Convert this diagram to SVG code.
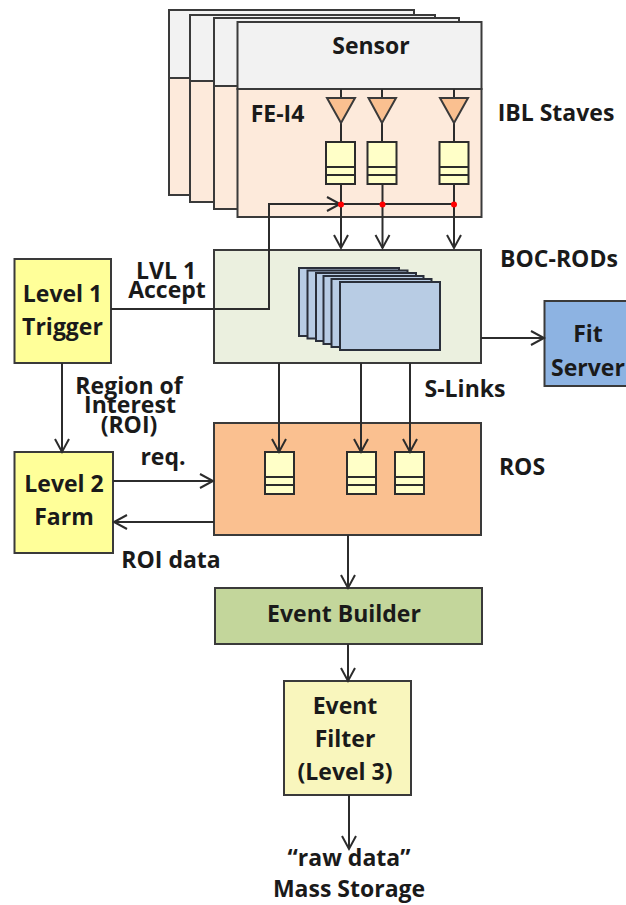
<svg xmlns="http://www.w3.org/2000/svg" width="626" height="905" viewBox="0 0 626 905">
<style>
text{font-family:"Open Sans","Noto Sans","Liberation Sans",sans-serif;font-weight:700;fill:#1a1a1a;font-size:23px;text-anchor:middle}
.b{stroke:#3a3a3a;stroke-width:2}
.s{fill:#f2f2f2}.f{fill:#fdeadb}
.l{fill:none;stroke:#2c2c2c;stroke-width:2}
.fifo{fill:#ffffc8;stroke:#2c2c2c;stroke-width:2}
.tri{fill:#fac090;stroke:#3a3a3a;stroke-width:2}
.card{fill:#b8cce4;stroke:#2a2f3a;stroke-width:2}
</style>
<defs>
<marker id="a" markerUnits="userSpaceOnUse" markerWidth="18" markerHeight="18" refX="14" refY="8" orient="auto"><path d="M1 1 L14 8 L1 15" fill="none" stroke="#2c2c2c" stroke-width="2"/></marker>
<g id="fifo"><rect class="fifo" x="0" y="0" width="29" height="42"/><path class="l" d="M0 25H29M0 33H29"/></g>
</defs>
<rect width="626" height="905" fill="#fff"/>
<g id="stave-1"><rect class="s b" x="169" y="10" width="245" height="68"/><rect class="f b" x="169" y="78" width="245" height="117"/></g>
<g id="stave-2"><rect class="s b" x="190" y="15" width="245" height="66"/><rect class="f b" x="190" y="81" width="245" height="121"/></g>
<g id="stave-3"><rect class="s b" x="214" y="18" width="245" height="68"/><rect class="f b" x="214" y="86" width="245" height="123"/></g>
<g id="stave-4"><rect class="s b" x="237.500" y="22" width="244" height="67"/><rect class="f b" x="237.500" y="89" width="244" height="128"/>
<text x="371" y="54">Sensor</text><text x="277.500" y="122">FE-I4</text>
<path class="l" d="M341 89V98M382 89V98M454 89V98M341 123V142M382 123V142M454 123V142"/>
<path class="tri" d="M327 98H355L341 123Z"/><path class="tri" d="M368.500 98H396L382 123Z"/><path class="tri" d="M440 98H468L454 123Z"/>
<use href="#fifo" x="326" y="142"/><use href="#fifo" x="367.500" y="142"/><use href="#fifo" x="439.500" y="142"/>
</g>
<g id="boc-rods"><rect class="b" fill="#ebf0df" x="214" y="250" width="267" height="113"/>
<rect class="card" x="299" y="268" width="100" height="68"/><rect class="card" x="307.500" y="270.500" width="100" height="68"/><rect class="card" x="316" y="273" width="100" height="68"/><rect class="card" x="323.500" y="276" width="100" height="68"/><rect class="card" x="331.500" y="279" width="100" height="68"/><rect class="card" x="340" y="282" width="100" height="68"/></g>
<g id="fit-server"><rect class="b" fill="#8db3e2" x="544.500" y="301" width="90" height="85"/><text x="588" y="342">Fit</text><text x="588" y="376">Server</text></g>
<g id="ros"><rect class="b" fill="#fac090" x="214" y="423" width="267" height="112"/>
<use href="#fifo" x="265" y="452"/><use href="#fifo" x="347" y="452"/><use href="#fifo" x="395" y="452"/></g>
<g id="level-1"><rect class="b" fill="#ffff99" x="14.500" y="259" width="96.500" height="104"/><text x="62.500" y="302">Level 1</text><text x="62.500" y="335">Trigger</text></g>
<g id="level-2"><rect class="b" fill="#ffff99" x="14.500" y="452" width="98.500" height="101"/><text x="64" y="492">Level 2</text><text x="64" y="525">Farm</text></g>
<g id="event-builder"><rect class="b" fill="#c3d69b" x="215" y="588" width="267" height="56"/><text x="344" y="622">Event Builder</text></g>
<g id="event-filter"><rect class="b" fill="#f9f6bd" x="284" y="681" width="127" height="114"/><text x="345" y="714">Event</text><text x="345" y="747">Filter</text><text x="345" y="780">(Level 3)</text></g>
<g id="connectors">
<path class="l" d="M111 309H269V204H340" marker-end="url(#a)"/>
<path class="l" d="M341 204H454"/>
<path class="l" d="M341 184V248" marker-end="url(#a)"/><path class="l" d="M382.500 184V248" marker-end="url(#a)"/><path class="l" d="M454 184V248" marker-end="url(#a)"/>
<circle cx="341" cy="204.500" r="3" fill="#f00"/><circle cx="382.500" cy="204.500" r="3" fill="#f00"/><circle cx="454" cy="204.500" r="3" fill="#f00"/>
<path class="l" d="M481 338H544" marker-end="url(#a)"/>
<path class="l" d="M279 363V452" marker-end="url(#a)"/><path class="l" d="M361 363V452" marker-end="url(#a)"/><path class="l" d="M410 363V452" marker-end="url(#a)"/>
<path class="l" d="M62 363V452" marker-end="url(#a)"/>
<path class="l" d="M113 481H213" marker-end="url(#a)"/>
<path class="l" d="M214 522H114" marker-end="url(#a)"/>
<path class="l" d="M348 535V588" marker-end="url(#a)"/>
<path class="l" d="M348 644V681" marker-end="url(#a)"/>
<path class="l" d="M349 795V849" marker-end="url(#a)"/>
</g>
<g id="labels">
<text x="556" y="121">IBL Staves</text>
<text x="559" y="267">BOC-RODs</text>
<text x="166" y="279">LVL 1</text><text x="167" y="298">Accept</text>
<text x="129" y="394">Region of</text><text x="130" y="413">Interest</text><text x="129" y="433">(ROI)</text>
<text x="163" y="465">req.</text>
<text x="171" y="568">ROI data</text>
<text x="465" y="397">S-Links</text>
<text x="522" y="475">ROS</text>
<text x="349" y="866">“raw data”</text>
<text x="349" y="897">Mass Storage</text>
</g>
</svg>
